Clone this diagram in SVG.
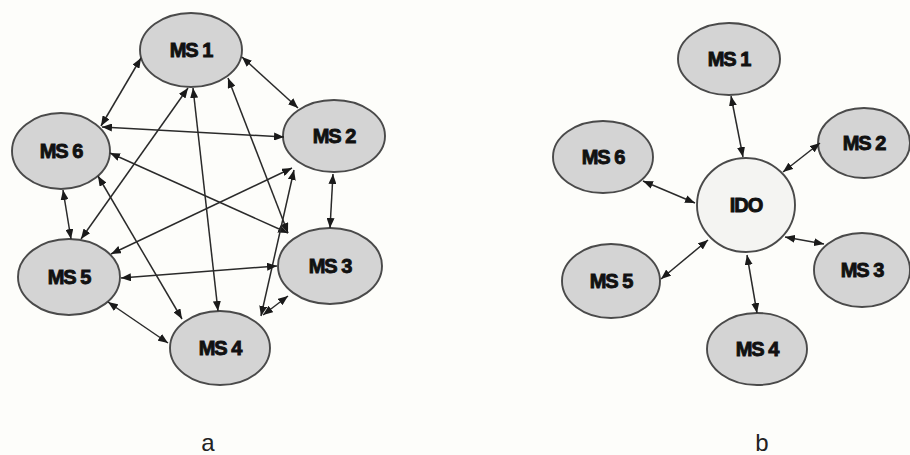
<svg xmlns="http://www.w3.org/2000/svg" width="910" height="455" viewBox="0 0 910 455">
<style>
.n{fill:#d4d4d4;stroke:#4a4a4a;stroke-width:1.9}
.c{fill:#f4f4f2;stroke:#4a4a4a;stroke-width:1.9}
.t{font-family:"Liberation Sans",Arial,sans-serif;font-weight:bold;font-size:20px;letter-spacing:-1px;text-anchor:middle;fill:#111;stroke:#111;stroke-width:0.9}
.e{stroke:#2a2a2a;stroke-width:1.5;fill:none;marker-start:url(#ah);marker-end:url(#ah)}
.cap{font-family:"Liberation Sans",Arial,sans-serif;font-size:24px;text-anchor:middle;fill:#222}
</style>
<defs>
<marker id="ah" markerUnits="userSpaceOnUse" markerWidth="10" markerHeight="8" refX="10" refY="4" orient="auto-start-reverse">
<path d="M0,0 L10,4 L0,8 z" fill="#1a1a1a"/>
</marker>
</defs>
<rect width="910" height="455" fill="#fdfdfa"/>
<g id="a-ms1"><ellipse class="n" cx="191" cy="50" rx="51" ry="37"/><text class="t" x="191" y="57">MS 1</text></g>
<g id="a-ms2"><ellipse class="n" cx="334" cy="136" rx="51" ry="36"/><text class="t" x="334" y="143">MS 2</text></g>
<g id="a-ms6"><ellipse class="n" cx="61" cy="151" rx="49" ry="38"/><text class="t" x="61" y="158">MS 6</text></g>
<g id="a-ms5"><ellipse class="n" cx="69" cy="277" rx="51" ry="38"/><text class="t" x="69" y="284">MS 5</text></g>
<g id="a-ms3"><ellipse class="n" cx="330" cy="266" rx="52" ry="38"/><text class="t" x="330" y="273">MS 3</text></g>
<g id="a-ms4"><ellipse class="n" cx="220" cy="348" rx="50" ry="37"/><text class="t" x="220" y="355">MS 4</text></g>
<g id="b-ms1"><ellipse class="n" cx="729" cy="59" rx="51" ry="36"/><text class="t" x="729" y="66">MS 1</text></g>
<g id="b-ms2"><ellipse class="n" cx="864" cy="143" rx="46" ry="35"/><text class="t" x="864" y="150">MS 2</text></g>
<g id="b-ms6"><ellipse class="n" cx="603" cy="157" rx="50" ry="36"/><text class="t" x="603" y="164">MS 6</text></g>
<g id="b-ido"><ellipse class="c" cx="746" cy="205" rx="49" ry="47"/><text class="t" x="746" y="212">IDO</text></g>
<g id="b-ms3"><ellipse class="n" cx="862" cy="270" rx="48" ry="37"/><text class="t" x="862" y="277">MS 3</text></g>
<g id="b-ms5"><ellipse class="n" cx="611" cy="281" rx="49" ry="37"/><text class="t" x="611" y="288">MS 5</text></g>
<g id="b-ms4"><ellipse class="n" cx="757" cy="349" rx="50" ry="36"/><text class="t" x="757" y="356">MS 4</text></g>
<g id="connectors">
<line class="e" x1="141" y1="58" x2="101" y2="126"/>
<line class="e" x1="242" y1="57" x2="298" y2="108"/>
<line class="e" x1="102" y1="127" x2="284" y2="137"/>
<line class="e" x1="188" y1="88" x2="81" y2="239"/>
<line class="e" x1="193" y1="88" x2="218" y2="311"/>
<line class="e" x1="228" y1="78" x2="288" y2="233"/>
<line class="e" x1="63" y1="190" x2="71" y2="239"/>
<line class="e" x1="110" y1="153" x2="288" y2="233"/>
<line class="e" x1="98" y1="176" x2="182" y2="319"/>
<line class="e" x1="292" y1="168" x2="111" y2="254"/>
<line class="e" x1="294" y1="170" x2="261" y2="316"/>
<line class="e" x1="333" y1="174" x2="330" y2="228"/>
<line class="e" x1="121" y1="278" x2="277" y2="266"/>
<line class="e" x1="288" y1="296" x2="263" y2="315"/>
<line class="e" x1="108" y1="302" x2="168" y2="343"/>
<line class="e" x1="731" y1="96" x2="743" y2="157"/>
<line class="e" x1="820" y1="143" x2="783" y2="172"/>
<line class="e" x1="643" y1="181" x2="695" y2="203"/>
<line class="e" x1="708" y1="240" x2="661" y2="279"/>
<line class="e" x1="747" y1="255" x2="757" y2="313"/>
<line class="e" x1="785" y1="237" x2="824" y2="244"/>
</g>
<text class="cap" x="208" y="451">a</text>
<text class="cap" x="762" y="451">b</text>
</svg>
